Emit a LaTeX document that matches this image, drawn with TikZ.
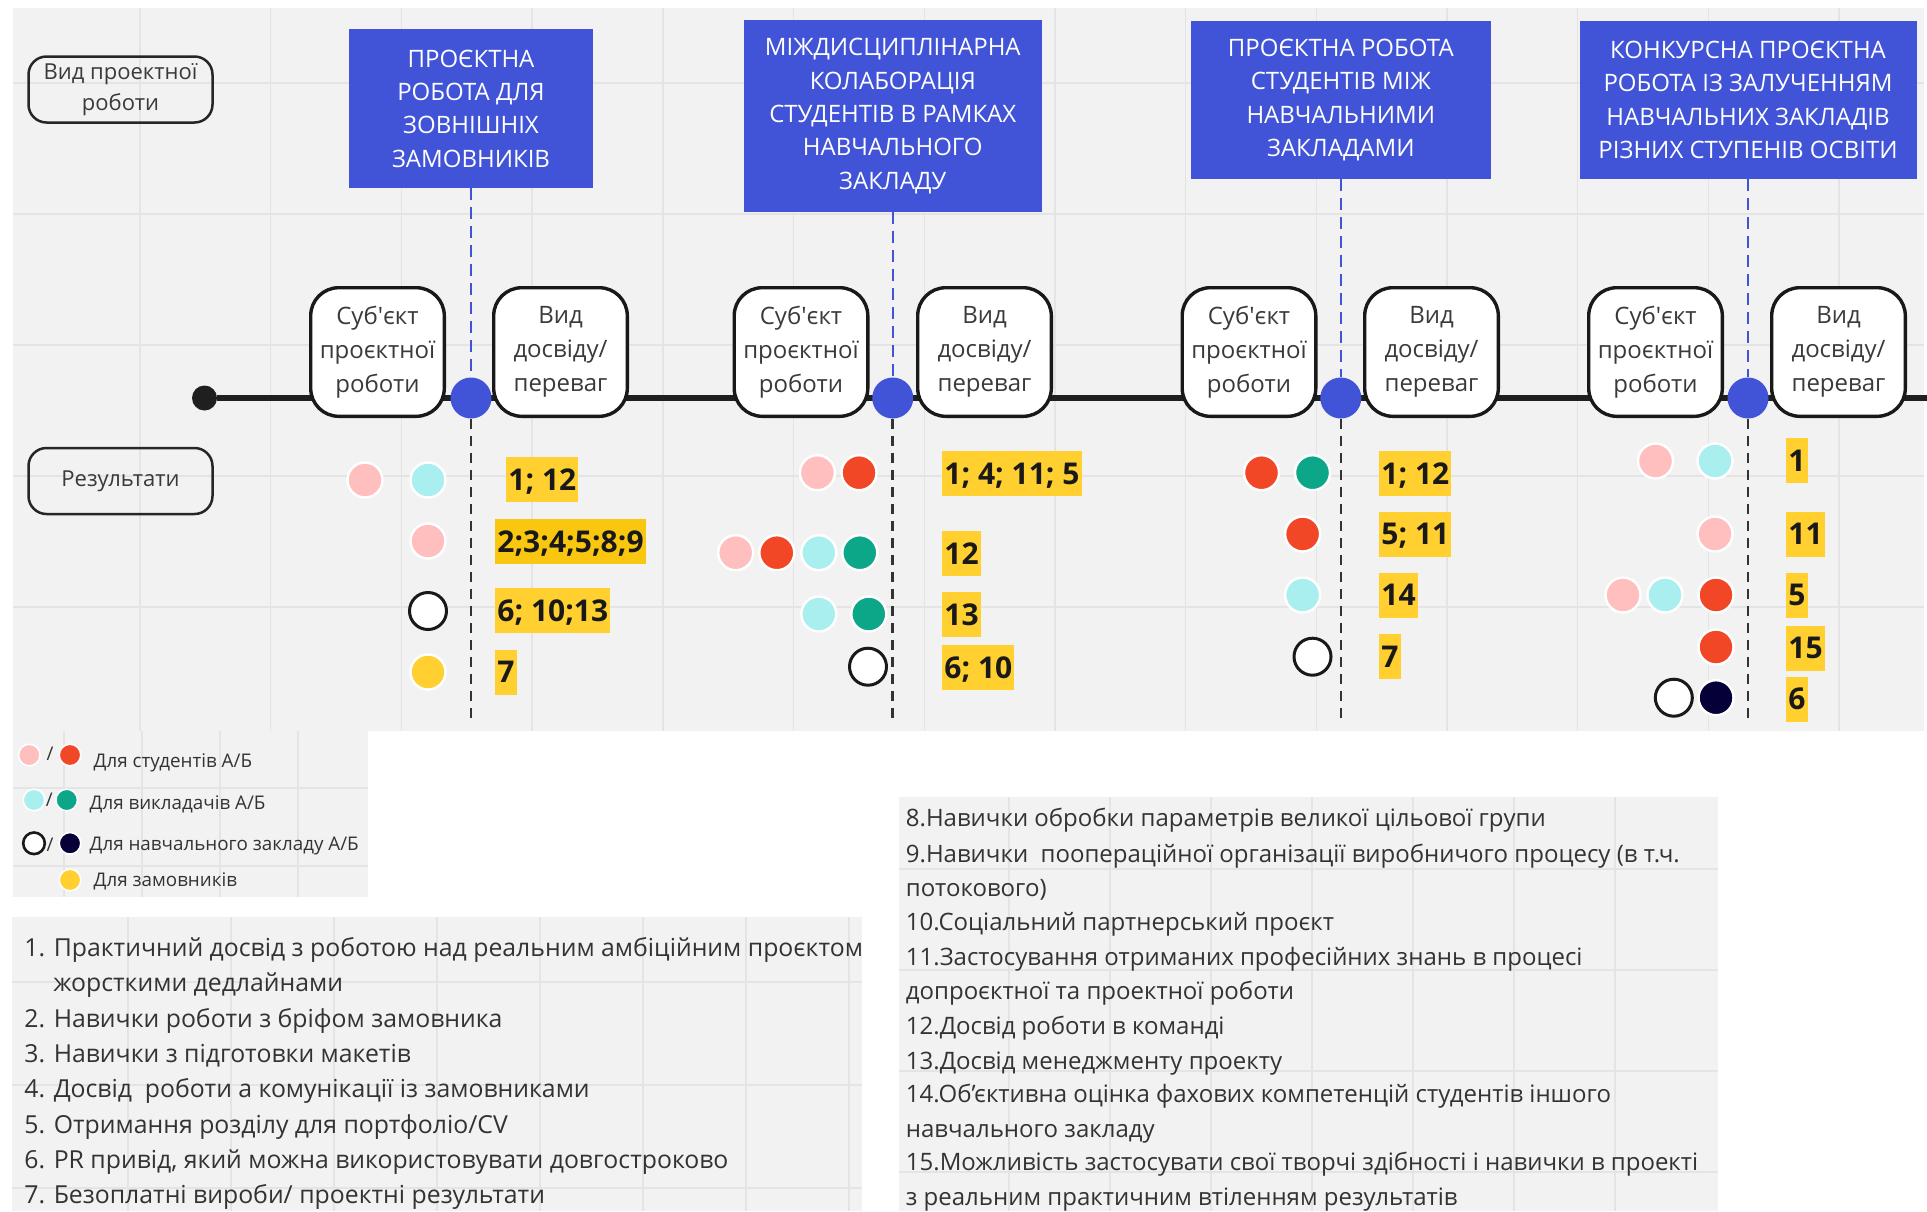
\documentclass[tikz,border=0pt]{standalone}
\usepackage{fontspec}
\setmainfont{Open Sans}
\definecolor{bggray}{HTML}{F2F2F2}
\definecolor{gridgray}{HTML}{E4E4E4}
\definecolor{headblue}{HTML}{4153D7}
\definecolor{dpink}{HTML}{FFBFBF}
\definecolor{dred}{HTML}{F24726}
\definecolor{dcyan}{HTML}{A9EFF0}
\definecolor{dgreen}{HTML}{0CA789}
\definecolor{dnavy}{HTML}{050038}
\definecolor{dyellow}{HTML}{FFD02F}
\definecolor{numyellow}{HTML}{FFD02F}
\definecolor{numorange}{HTML}{FAC710}
\definecolor{boxtext}{HTML}{3A3A3A}
\definecolor{listtext}{HTML}{333333}
\tikzset{
	gridline/.style={draw=gridgray, line width=0.7pt},
	headbox/.style={fill=headblue, text=white, align=center, inner sep=0pt,
		font=\fontsize{12}{16.65}\selectfont},
	stepbox/.style={fill=white, draw=black!90, line width=1.7pt, rounded corners=14pt,
		minimum width=66.8pt, minimum height=64.3pt, align=center, inner sep=0pt,
		text=boxtext, font=\fontsize{12}{17}\selectfont},
	labelbox/.style={draw=black!85, line width=1.25pt, rounded corners=9pt,
		minimum width=92pt, minimum height=33pt, align=center, inner sep=0pt,
		text=boxtext, font=\fontsize{11}{15.5}\selectfont},
	milestone/.style={circle, fill=headblue, minimum size=20.5pt, inner sep=0pt},
	startdot/.style={circle, fill=black!88, minimum size=12.5pt, inner sep=0pt},
	timeline/.style={draw=black!88, line width=3pt},
	bluedash/.style={draw=headblue, line width=1pt, dash pattern=on 6pt off 3.5pt},
	blackdash/.style={draw=black!80, line width=1.3pt, dash pattern=on 5pt off 3.5pt},
	resdot/.style={circle, fill=#1, draw=white, line width=1.2pt, minimum size=17.5pt, inner sep=0pt},
	hollowdot/.style={circle, fill=white, draw=black!90, line width=1.5pt, minimum size=18.5pt, inner sep=0pt},
	numbox/.style={fill=numyellow, anchor=west, inner xsep=1pt, inner ysep=5.9pt,
		text height=10.7pt, text depth=0pt, text=black!90, font=\fontsize{15}{18}\selectfont\bfseries},
	legdot/.style={circle, fill=#1, draw=white, line width=0.8pt, minimum size=10.8pt, inner sep=0pt},
	leghollow/.style={circle, fill=white, draw=black!90, line width=1.3pt, minimum size=10.8pt, inner sep=0pt},
	legtext/.style={anchor=base west, inner sep=0pt, text=listtext, font=\fontsize{9.4}{12}\selectfont},
	legslash/.style={inner sep=0pt, text=listtext, font=\fontsize{9.4}{12}\selectfont},
	listline/.style={anchor=base west, inner sep=0pt, text=listtext, font=\fontsize{12}{17}\selectfont},
	listwide/.style={listline, font=\fontsize{12.4}{17}\selectfont}
}

\begin{document}
\begin{tikzpicture}[x=0.5pt, y=-0.5pt]
	\useasboundingbox (0,0) rectangle (1927,1211);
	\fill[white] (0,0) rectangle (1927,1211);

% FOND

	\fill[bggray] (12.5,8) rectangle (1924,731);
	\fill[bggray] (12.7,731) rectangle (367.7,897);
	\fill[bggray] (12,917) rectangle (862,1211);
	\fill[bggray] (899,797) rectangle (1718,1211);

	% grille
	\foreach \gx in {140,270.7,...,1840} \draw[gridline] (\gx,8) -- (\gx,731);
	\foreach \gy in {83,214,345,476,607} \draw[gridline] (12.5,\gy) -- (1924,\gy);
	\foreach \gx in {64,142,220,298} \draw[gridline] (\gx,731) -- (\gx,897);
	\foreach \gy in {788,866} \draw[gridline] (12.7,\gy) -- (367.7,\gy);
	\foreach \gx in {128,231,...,850} \draw[gridline] (\gx,917) -- (\gx,1211);
	\foreach \gy in {982,1085,1188} \draw[gridline] (12,\gy) -- (862,\gy);
	\foreach \gx in {1009,1110,...,1616} \draw[gridline] (\gx,797) -- (\gx,1211);
	\foreach \gy in {869,970,1071,1172} \draw[gridline] (899,\gy) -- (1718,\gy);

% LIGNE DU TEMPS

	\node[startdot] (t0) at (204.5,398) {};
	\coordinate (tend) at (1927,398);
	\draw[timeline] (t0) -- (tend);

	% titres
	\node[headbox, minimum width=122pt, minimum height=79.5pt] (h1) at (471,108.5)
		{ПРОЄКТНА\\РОБОТА ДЛЯ\\ЗОВНІШНІХ\\ЗАМОВНИКІВ};
	\node[headbox, minimum width=148.75pt, minimum height=96pt] (h2) at (892.75,116)
		{МІЖДИСЦИПЛІНАРНА\\КОЛАБОРАЦІЯ\\СТУДЕНТІВ В РАМКАХ\\НАВЧАЛЬНОГО\\ЗАКЛАДУ};
	\node[headbox, minimum width=150.2pt, minimum height=79pt] (h3) at (1340.8,100)
		{ПРОЄКТНА РОБОТА\\СТУДЕНТІВ МІЖ\\НАВЧАЛЬНИМИ\\ЗАКЛАДАМИ};
	\node[headbox, minimum width=168.5pt, minimum height=79pt] (h4) at (1748,100)
		{КОНКУРСНА ПРОЄКТНА\\РОБОТА ІЗ ЗАЛУЧЕННЯМ\\НАВЧАЛЬНИХ ЗАКЛАДІВ\\РІЗНИХ СТУПЕНІВ ОСВІТИ};

	% etapes
	\node[stepbox] (s1) at (377.5,352) {Суб\textquotesingle єкт\\проєктної\\роботи};
	\node[stepbox] (v1) at (560.5,352) {Вид\\досвіду/\\переваг};
	\node[stepbox] (s2) at (801,352) {Суб\textquotesingle єкт\\проєктної\\роботи};
	\node[stepbox] (v2) at (984.5,352) {Вид\\досвіду/\\переваг};
	\node[stepbox] (s3) at (1249,352) {Суб\textquotesingle єкт\\проєктної\\роботи};
	\node[stepbox] (v3) at (1431.5,352) {Вид\\досвіду/\\переваг};
	\node[stepbox] (s4) at (1655.5,352) {Суб\textquotesingle єкт\\проєктної\\роботи};
	\node[stepbox] (v4) at (1838.5,352) {Вид\\досвіду/\\переваг};

	\node[milestone] (m1) at (471,398) {};
	\node[milestone] (m2) at (892.75,398) {};
	\node[milestone] (m3) at (1340.8,398) {};
	\node[milestone] (m4) at (1748,398) {};

	\coordinate (e1) at (471,722);
	\coordinate (e2) at (892.75,720);
	\coordinate (e3) at (1340.8,723);
	\coordinate (e4) at (1748,722);

	\draw[bluedash] (h1) -- (m1);
	\draw[bluedash] (h2) -- (m2);
	\draw[bluedash] (h3) -- (m3);
	\draw[bluedash] (h4) -- (m4);
	\draw[blackdash] (m1) -- (e1);
	\draw[blackdash] (m2) -- (e2);
	\draw[blackdash] (m3) -- (e3);
	\draw[blackdash] (m4) -- (e4);

	% legendes a gauche
	\node[labelbox] (lvid) at (120.5,89.5) {Вид проектної\\роботи};
	\node[labelbox] (lres) at (120.5,481) {Результати};

% RESULTATS

	% 1
	\node[resdot=dpink] (d11a) at (365,480) {};
	\node[resdot=dcyan] (d11b) at (428,480) {};
	\node[resdot=dpink] (d12a) at (428,541) {};
	\node[hollowdot] (d13a) at (428,611) {};
	\node[resdot=dyellow] (d14a) at (428,672) {};
	\node[numbox] (n11) at (506,479.5) {1; 12};
	\node[numbox, fill=numorange] (n12) at (495,541.5) {2;3;4;5;8;9};
	\node[numbox] (n13) at (495,610.5) {6; 10;13};
	\node[numbox] (n14) at (495,672) {7};

	% 2
	\node[resdot=dpink] (d21a) at (817.4,472.7) {};
	\node[resdot=dred] (d21b) at (859,472.7) {};
	\node[resdot=dpink] (d22a) at (735.7,552.7) {};
	\node[resdot=dred] (d22b) at (776.8,552.7) {};
	\node[resdot=dcyan] (d22c) at (818.8,552.7) {};
	\node[resdot=dgreen] (d22d) at (859.8,552.7) {};
	\node[resdot=dcyan] (d23a) at (818.8,614) {};
	\node[resdot=dgreen] (d23b) at (868.8,614) {};
	\node[hollowdot] (d24a) at (868,666.7) {};
	\node[numbox] (n21) at (942,473.5) {1; 4; 11; 5};
	\node[numbox] (n22) at (942,553.5) {12};
	\node[numbox] (n23) at (942,614.5) {13};
	\node[numbox] (n24) at (942,667.5) {6; 10};

	% 3
	\node[resdot=dred] (d31a) at (1261.5,472.7) {};
	\node[resdot=dgreen] (d31b) at (1312.5,472.7) {};
	\node[resdot=dred] (d32a) at (1302.6,534) {};
	\node[resdot=dcyan] (d33a) at (1302.6,595) {};
	\node[hollowdot] (d34a) at (1312.5,656.7) {};
	\node[numbox] (n31) at (1379,473.5) {1; 12};
	\node[numbox] (n32) at (1379,534) {5; 11};
	\node[numbox] (n33) at (1379,595) {14};
	\node[numbox] (n34) at (1379,656.5) {7};

	% 4
	\node[resdot=dpink] (d41a) at (1655.5,461) {};
	\node[resdot=dcyan] (d41b) at (1715,461) {};
	\node[resdot=dpink] (d42a) at (1715,534) {};
	\node[resdot=dpink] (d43a) at (1623,595) {};
	\node[resdot=dcyan] (d43b) at (1665,595) {};
	\node[resdot=dred] (d43c) at (1716,595) {};
	\node[resdot=dred] (d44a) at (1716,647) {};
	\node[hollowdot] (d45a) at (1673.8,697.7) {};
	\node[resdot=dnavy] (d45b) at (1716,697.7) {};
	\node[numbox] (n41) at (1786,460.5) {1};
	\node[numbox] (n42) at (1786,534) {11};
	\node[numbox] (n43) at (1786,595) {5};
	\node[numbox] (n44) at (1786,648) {15};
	\node[numbox] (n45) at (1786,699) {6};

% LEGENDE

	\node[legdot=dpink] (g1a) at (29.3,755) {};
	\node[legslash] (g1s) at (50,754) {/};
	\node[legdot=dred] (g1b) at (70,755) {};
	\node[legtext] (g1t) at (93.3,767.7) {Для студентів А/Б};

	\node[legdot=dcyan] (g2a) at (34,800) {};
	\node[legslash] (g2s) at (49.3,800) {/};
	\node[legdot=dgreen] (g2b) at (66.7,800) {};
	\node[legtext] (g2t) at (89.3,809.3) {Для викладачів А/Б};

	\node[leghollow] (g3a) at (34,843.3) {};
	\node[legslash] (g3s) at (50,845) {/};
	\node[legdot=dnavy] (g3b) at (70,843.3) {};
	\node[legtext] (g3t) at (89.3,850.7) {Для навчального закладу А/Б};

	\node[legdot=dyellow] (g4a) at (70,880) {};
	\node[legtext] (g4t) at (93.3,886.7) {Для замовників};

% LISTES

	\node[listwide] (i1) at (24,956) {1. Практичний досвід з роботою над реальним амбіційним проєктом};
	\node[listwide] (i1b) at (53,991.5) {жорсткими дедлайнами};
	\node[listwide] (i2) at (24,1027) {2. Навички роботи з бріфом замовника};
	\node[listwide] (i3) at (24,1062) {3. Навички з підготовки макетів};
	\node[listwide] (i4) at (24,1097.5) {4. Досвід\ \ роботи а комунікації із замовниками};
	\node[listwide] (i5) at (24,1133) {5. Отримання розділу для портфоліо/CV};
	\node[listwide] (i6) at (24,1168) {6. PR привід, який можна використовувати довгостроково};
	\node[listwide] (i7) at (24,1203) {7. Безоплатні вироби/ проектні результати};

	\node[listline] (i8) at (905.5,826.8) {8.Навички обробки параметрів великої цільової групи};
	\node[listline] (i9) at (905.5,862.5) {9.Навички\ \ поопераційної організації виробничого процесу (в т.ч.};
	\node[listline] (i9b) at (905.5,896.5) {потокового)};
	\node[listline] (i10) at (905.5,930.8) {10.Соціальний партнерський проєкт};
	\node[listline] (i11) at (905.5,965.8) {11.Застосування отриманих професійних знань в процесі};
	\node[listline] (i11b) at (905.5,999.2) {допроєктної та проектної роботи};
	\node[listline] (i12) at (905.5,1034.2) {12.Досвід роботи в команді};
	\node[listline] (i13) at (905.5,1069.2) {13.Досвід менеджменту проекту};
	\node[listline] (i14) at (905.5,1102.5) {14.Об’єктивна оцінка фахових компетенцій студентів іншого};
	\node[listline] (i14b) at (905.5,1137.5) {навчального закладу};
	\node[listline] (i15) at (905.5,1170.2) {15.Можливість застосувати свої творчі здібності і навички в проекті};
	\node[listline] (i15b) at (905.5,1205.8) {з реальним практичним втіленням результатів};

\end{tikzpicture}
\end{document}
